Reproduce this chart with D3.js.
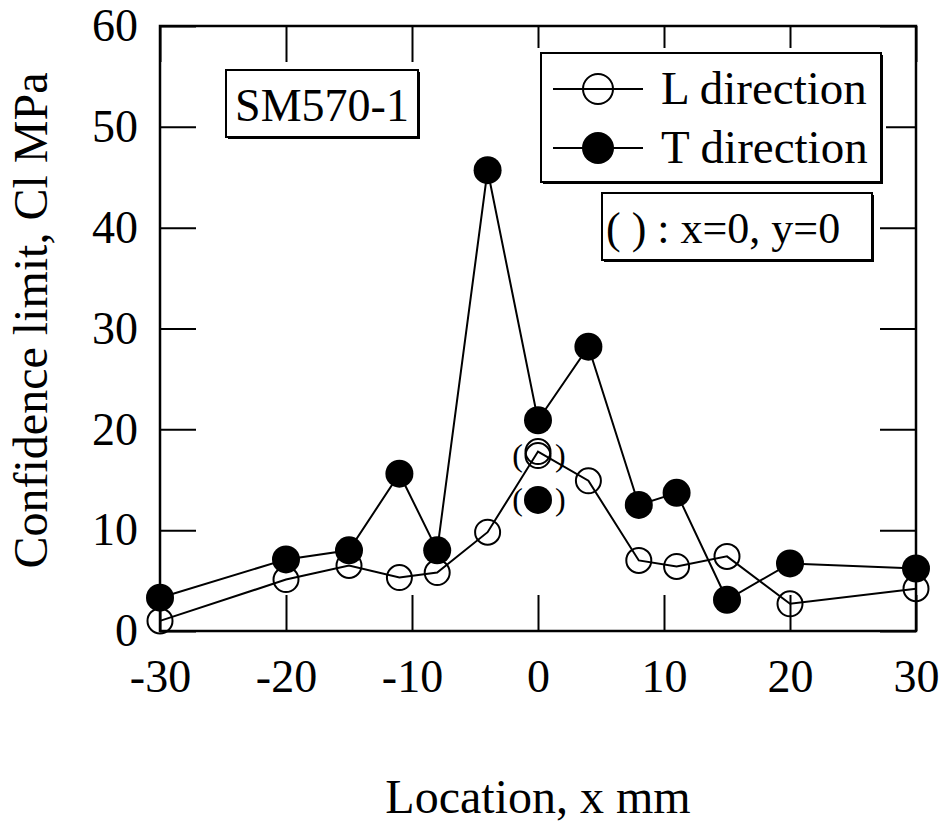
<!DOCTYPE html>
<html>
<head>
<meta charset="utf-8">
<script src="https://cdn.jsdelivr.net/npm/d3@7"></script>
<style>
  body { margin: 0; background: #fff; }
  text { font-family: "Liberation Serif", "Times New Roman", serif; fill: #000; }
</style>
</head>
<body>
<script>
// Location x (mm) and confidence limit (MPa)
const locations = [-30, -20, -15, -11, -8, -4, 0, 4, 8, 11, 15, 20, 30]
const lDirection = [1.0, 5.1, 6.5, 5.3, 5.8, 9.8, 17.8, 14.9, 7.0, 6.4, 7.4, 2.7, 4.2]
const tDirection = [3.3, 7.1, 8.0, 15.6, 8.0, 45.7, 20.9, 28.2, 12.5, 13.7, 3.1, 6.7, 6.2]

// points at x=0, y=0 (drawn in parentheses)
const parenX = [0]
const parenL = [17.4]
const parenT = [13.0]

const xTicks = [-30, -20, -10, 0, 10, 20, 30]
const yTicks = [0, 10, 20, 30, 40, 50, 60]

const WIDTH = 945
const HEIGHT = 826
const margin = { left: 160, top: 26, right: 29, bottom: 195 }

const svg = d3.select('body')
  .append('svg')
  .attr('width', WIDTH)
  .attr('height', HEIGHT)

const x = d3.scaleLinear().domain([-30, 30]).range([margin.left, WIDTH - margin.right])
const y = d3.scaleLinear().domain([0, 60]).range([HEIGHT - margin.bottom, margin.top])

const TICK = 36
// plain hyphen for negatives, like the original
const fmt = d => String(d)

// axes on all four sides, ticks pointing inward
const axisStyle = g => {
  g.select('.domain').remove()
  g.selectAll('.tick line').attr('stroke', '#000').attr('stroke-width', 2)
  g.selectAll('.tick text').style('font-size', '46px').style('font-family', '"Liberation Serif", serif')
}

svg.append('g')
  .attr('transform', `translate(0,${y(0)})`)
  .call(d3.axisBottom(x).tickValues(xTicks).tickSize(-TICK).tickPadding(28).tickFormat(fmt))
  .call(axisStyle)
  .selectAll('.tick text').attr('dy', '0.71em')

svg.append('g')
  .attr('transform', `translate(0,${y(60)})`)
  .call(d3.axisTop(x).tickValues(xTicks).tickSize(-TICK).tickFormat(''))
  .call(axisStyle)

svg.append('g')
  .attr('transform', `translate(${x(-30)},0)`)
  .call(d3.axisLeft(y).tickValues(yTicks).tickSize(-TICK).tickPadding(22).tickFormat(fmt))
  .call(axisStyle)

svg.append('g')
  .attr('transform', `translate(${x(30)},0)`)
  .call(d3.axisRight(y).tickValues(yTicks).tickSize(-TICK).tickFormat(''))
  .call(axisStyle)

// plot frame
svg.append('rect')
  .attr('x', x(-30))
  .attr('y', y(60))
  .attr('width', x(30) - x(-30))
  .attr('height', y(0) - y(60))
  .attr('fill', 'none')
  .attr('stroke', '#000')
  .attr('stroke-width', 2.5)

// axis titles
svg.append('text')
  .attr('x', (x(-30) + x(30)) / 2)
  .attr('y', 813)
  .attr('text-anchor', 'middle')
  .style('font-size', '48px')
  .text('Location, x mm')

svg.append('text')
  .attr('transform', `translate(47,${(y(0) + y(60)) / 2 - 8}) rotate(-90)`)
  .attr('text-anchor', 'middle')
  .style('font-size', '48px')
  .text('Confidence limit, Cl MPa')

// series
const line = d3.line().x(d => x(d[0])).y(d => y(d[1]))
const lData = locations.map((v, i) => [v, lDirection[i]])
const tData = locations.map((v, i) => [v, tDirection[i]])

svg.append('path').datum(lData).attr('d', line)
  .attr('fill', 'none').attr('stroke', '#000').attr('stroke-width', 2)
svg.append('path').datum(tData).attr('d', line)
  .attr('fill', 'none').attr('stroke', '#000').attr('stroke-width', 2)

const openCircle = (g, data, r) => {
  g.selectAll(null).data(data).enter().append('circle')
    .attr('cx', d => x(d[0])).attr('cy', d => y(d[1])).attr('r', r)
    .attr('fill', 'none').attr('stroke', '#000').attr('stroke-width', 2)
}
const filledCircle = (g, data, r) => {
  g.selectAll(null).data(data).enter().append('circle')
    .attr('cx', d => x(d[0])).attr('cy', d => y(d[1])).attr('r', r)
    .attr('fill', '#000')
}

const pL = parenX.map((v, i) => [v, parenL[i]])
const pT = parenX.map((v, i) => [v, parenT[i]])

openCircle(svg.append('g'), lData, 12.5)
openCircle(svg.append('g'), pL, 12.5)
filledCircle(svg.append('g'), tData, 14)
filledCircle(svg.append('g'), pT, 14)

// parentheses around the x=0, y=0 points
const parens = pL.concat(pT)
const pg = svg.append('g').style('font-size', '32px')
pg.selectAll(null).data(parens).enter().append('text')
  .attr('x', d => x(d[0]) - 15).attr('y', d => y(d[1])).attr('dy', '0.32em')
  .attr('text-anchor', 'end').text('(')
pg.selectAll(null).data(parens).enter().append('text')
  .attr('x', d => x(d[0]) + 17).attr('y', d => y(d[1])).attr('dy', '0.32em')
  .attr('text-anchor', 'start').text(')')

// boxed annotations with a small drop shadow
const box = (x0, y0, x1, y1) => {
  svg.append('rect').attr('x', x0 - 5).attr('y', y0 - 5)
    .attr('width', x1 - x0 + 10).attr('height', y1 - y0 + 10).attr('fill', '#fff')
  svg.append('rect').attr('x', x0 + 2).attr('y', y0 + 2)
    .attr('width', x1 - x0).attr('height', y1 - y0).attr('fill', '#000')
  svg.append('rect').attr('x', x0).attr('y', y0)
    .attr('width', x1 - x0).attr('height', y1 - y0)
    .attr('fill', '#fff').attr('stroke', '#000').attr('stroke-width', 2)
}

box(226, 70, 418, 137)
svg.append('text').attr('x', 322).attr('y', 121)
  .attr('text-anchor', 'middle').style('font-size', '46px').text('SM570-1')

box(541, 53, 881, 182)
const legend = [
  { label: 'L direction', filled: false, yy: 89 },
  { label: 'T direction', filled: true, yy: 148 }
]
legend.forEach(d => {
  svg.append('line').attr('x1', 553).attr('x2', 643).attr('y1', d.yy).attr('y2', d.yy)
    .attr('stroke', '#000').attr('stroke-width', 2)
  svg.append('circle').attr('cx', 598).attr('cy', d.yy).attr('r', d.filled ? 16 : 15)
    .attr('fill', d.filled ? '#000' : 'none').attr('stroke', '#000').attr('stroke-width', d.filled ? 0 : 2)
  svg.append('text').attr('x', 661).attr('y', d.yy + 15).style('font-size', '47px').text(d.label)
})

box(602, 193, 872, 260)
svg.append('text').attr('x', 606).attr('y', 243).style('font-size', '44px').text('( ) : x=0, y=0')
</script>
</body>
</html>
